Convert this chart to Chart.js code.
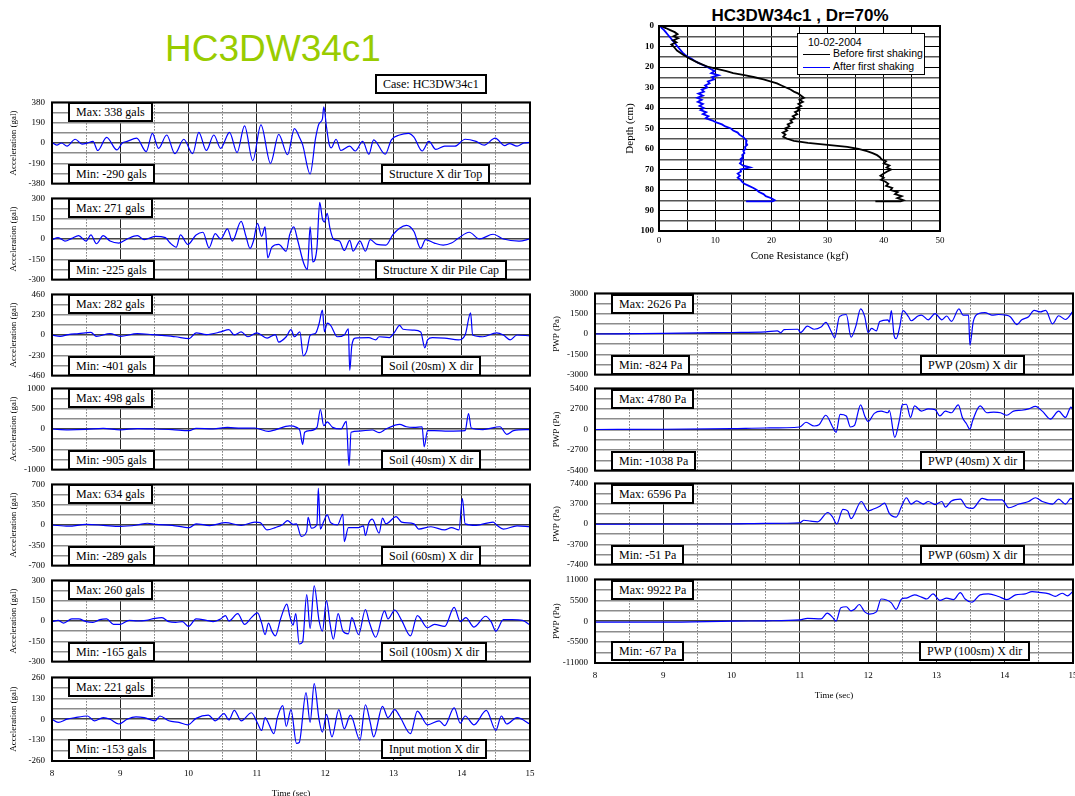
<!DOCTYPE html>
<html>
<head>
<meta charset="utf-8">
<script src="https://cdn.jsdelivr.net/npm/chart.js@4"></script>
<style>
html, body { margin: 0; padding: 0; background: #fff; width: 1075px; height: 796px; overflow: hidden; position: relative; }
canvas { position: absolute; }
.box { position: absolute; border: 2px solid #000; background: #fff; font: 12px 'Liberation Serif', serif; height: 16px; line-height: 16px; padding: 0 6px; white-space: nowrap; }
#bigTitle { position: absolute; left: 165px; top: 28px; font: 37px 'Liberation Sans', Arial, sans-serif; color: #99cc00; }
#coneTitle { position: absolute; left: 660px; width: 280px; top: 6px; text-align: center; font: bold 17px 'Liberation Sans', Arial, sans-serif; }
#legend { position: absolute; left: 797px; top: 33px; width: 126px; height: 40px; border: 1px solid #000; background: #fff; font: 10.5px 'Liberation Sans', Arial, sans-serif; }
#legend div { position: absolute; white-space: nowrap; }
#legend i { position: absolute; display: block; height: 1px; width: 27px; left: 5px; }
</style>
</head>
<body>
<div id="bigTitle">HC3DW34c1</div>
<div class="box" style="left:375px;top:74px;">Case: HC3DW34c1</div>
<div id="coneTitle">HC3DW34c1 , Dr=70%</div>
<div id="legend">
  <div style="left:10px;top:2px;">10-02-2004</div>
  <i style="top:20px;background:#000;"></i><div style="left:35px;top:13px;">Before first shaking</div>
  <i style="top:33px;background:#0000ff;"></i><div style="left:35px;top:26px;">After first shaking</div>
</div>
<script>
// acceleration records, [time (s), gal]
const accTop = [[8.00,5],[8.07,-20],[8.14,0],[8.22,-30],[8.34,35],[8.44,-10],[8.52,0],[8.60,15],[8.67,-70],[8.80,53],[8.95,-65],[9.03,0],[9.10,15],[9.24,45],[9.38,-80],[9.47,90],[9.56,-50],[9.68,75],[9.80,-100],[9.93,35],[10.06,-100],[10.15,100],[10.26,-70],[10.37,75],[10.47,-50],[10.60,100],[10.71,-90],[10.82,160],[10.94,-165],[11.06,170],[11.20,-190],[11.32,80],[11.45,-110],[11.55,135],[11.63,45],[11.67,-15],[11.78,-290],[11.86,45],[11.91,180],[11.96,225],[11.98,338],[12.02,150],[12.06,-15],[12.09,-45],[12.16,35],[12.23,-70],[12.36,-30],[12.44,-75],[12.55,15],[12.64,-105],[12.71,30],[12.88,-105],[12.97,30],[13.09,75],[13.22,90],[13.30,55],[13.42,-75],[13.52,15],[13.62,-60],[13.75,-30],[13.90,-30],[14.05,35],[14.21,15],[14.33,-20],[14.49,45],[14.63,-25],[14.70,-5],[14.81,-30],[14.91,0],[15.00,5]];
const accPileCap = [[8.00,-5],[8.09,10],[8.19,-15],[8.29,5],[8.39,25],[8.50,-15],[8.57,30],[8.65,-35],[8.75,25],[8.85,-15],[8.98,-30],[9.10,0],[9.25,25],[9.35,-5],[9.51,20],[9.66,10],[9.73,-30],[9.82,-60],[9.88,30],[9.99,-40],[10.11,30],[10.21,50],[10.30,-65],[10.39,40],[10.47,0],[10.57,75],[10.64,-15],[10.77,130],[10.84,20],[10.90,-70],[10.95,-15],[11.01,115],[11.07,20],[11.12,90],[11.16,-140],[11.22,-60],[11.32,-40],[11.43,-90],[11.48,30],[11.54,90],[11.60,-15],[11.69,-185],[11.74,-225],[11.78,90],[11.82,-170],[11.88,-65],[11.92,271],[11.96,150],[11.99,125],[12.03,190],[12.07,80],[12.12,0],[12.21,-15],[12.28,-85],[12.36,-10],[12.41,-90],[12.51,-15],[12.59,-90],[12.66,-5],[12.76,-40],[12.89,-45],[12.99,30],[13.09,80],[13.19,100],[13.30,55],[13.40,-70],[13.47,-5],[13.60,-30],[13.73,-45],[13.85,-30],[13.95,5],[14.11,50],[14.26,0],[14.46,35],[14.61,0],[14.84,-15],[15.00,0]];
const accSoil20 = [[8.00,0],[8.12,-15],[8.24,5],[8.39,15],[8.57,30],[8.65,-15],[8.85,15],[9.00,-15],[9.25,15],[9.46,5],[9.61,-5],[9.81,-20],[10.01,-40],[10.11,25],[10.26,5],[10.47,35],[10.59,60],[10.67,0],[10.77,35],[10.87,-20],[11.00,25],[11.15,-35],[11.27,5],[11.32,-80],[11.43,-20],[11.50,60],[11.55,-20],[11.63,35],[11.68,-235],[11.73,-180],[11.78,-5],[11.86,20],[11.91,125],[11.96,282],[11.99,35],[12.03,135],[12.08,110],[12.18,-20],[12.28,0],[12.34,70],[12.36,-401],[12.39,-125],[12.44,-35],[12.64,-30],[12.74,-55],[12.79,-20],[12.94,-30],[13.02,35],[13.09,110],[13.14,65],[13.30,55],[13.40,35],[13.46,-145],[13.50,-55],[13.57,-30],[13.75,-35],[13.95,-55],[14.05,0],[14.13,250],[14.16,0],[14.31,-20],[14.51,25],[14.61,0],[14.71,-55],[14.81,0],[15.00,-10]];
const accSoil40 = [[8.00,0],[8.24,-20],[8.50,-10],[8.75,15],[9.00,-20],[9.25,10],[9.51,0],[9.76,-15],[10.01,-40],[10.11,15],[10.36,0],[10.57,40],[10.77,20],[10.97,25],[11.17,-60],[11.27,-20],[11.48,75],[11.58,40],[11.63,-40],[11.67,-380],[11.70,-80],[11.78,-40],[11.88,40],[11.93,480],[11.98,80],[12.03,175],[12.11,40],[12.23,0],[12.31,190],[12.35,-905],[12.38,-80],[12.49,-50],[12.69,-25],[12.79,-90],[12.89,0],[13.09,115],[13.19,55],[13.30,40],[13.42,55],[13.45,-440],[13.50,-40],[13.60,-40],[13.80,-50],[14.05,-40],[14.10,380],[14.14,25],[14.31,-15],[14.56,55],[14.66,-130],[14.76,-40],[15.00,-15]];
const accSoil60 = [[8.00,0],[8.24,-20],[8.50,10],[8.75,-5],[9.00,-25],[9.25,0],[9.40,30],[9.51,10],[9.76,-5],[10.01,-45],[10.11,20],[10.31,-10],[10.54,40],[10.77,-5],[10.97,50],[11.05,40],[11.15,-85],[11.27,-45],[11.38,10],[11.45,75],[11.53,10],[11.58,20],[11.65,-195],[11.73,-110],[11.75,130],[11.80,-55],[11.88,10],[11.90,634],[11.93,-70],[11.98,65],[12.03,175],[12.08,40],[12.18,0],[12.26,185],[12.28,-289],[12.34,-45],[12.49,-45],[12.56,-15],[12.59,-180],[12.64,40],[12.69,100],[12.79,-140],[12.84,120],[12.89,20],[13.04,145],[13.12,50],[13.30,20],[13.37,-70],[13.55,-30],[13.75,-85],[13.85,-45],[13.96,-85],[14.01,455],[14.05,20],[14.21,-5],[14.46,50],[14.51,0],[14.61,-70],[14.81,-15],[15.00,-30]];
const accSoil100 = [[8.00,-5],[8.09,5],[8.17,-15],[8.29,15],[8.39,15],[8.50,-5],[8.60,-10],[8.70,10],[8.80,15],[8.90,-25],[9.00,-25],[9.13,5],[9.25,0],[9.38,5],[9.51,20],[9.61,25],[9.71,-5],[9.81,-10],[9.91,-5],[10.00,-40],[10.11,15],[10.26,5],[10.36,-5],[10.47,15],[10.54,40],[10.59,0],[10.72,55],[10.82,-25],[10.92,25],[11.01,60],[11.07,-15],[11.12,-100],[11.17,-15],[11.22,-75],[11.27,-110],[11.35,20],[11.44,125],[11.48,40],[11.53,-30],[11.57,55],[11.62,-170],[11.67,-155],[11.73,195],[11.78,-55],[11.84,260],[11.91,5],[11.96,-75],[12.02,150],[12.07,-15],[12.12,-135],[12.19,55],[12.26,-75],[12.34,-95],[12.39,25],[12.49,-100],[12.59,85],[12.65,-15],[12.74,-120],[12.87,75],[12.92,15],[13.02,80],[13.12,5],[13.25,-110],[13.35,40],[13.50,-50],[13.60,-25],[13.75,-40],[13.89,100],[13.98,-5],[14.06,25],[14.18,-45],[14.35,35],[14.43,-5],[14.50,-75],[14.61,10],[14.74,10],[14.89,5],[15.00,-30]];
const accInput = [[8.00,0],[8.09,-20],[8.22,0],[8.34,10],[8.52,20],[8.62,-10],[8.75,10],[8.85,0],[8.98,-30],[9.10,0],[9.23,15],[9.35,10],[9.51,-10],[9.58,20],[9.71,-10],[9.86,-20],[9.99,-35],[10.11,5],[10.29,25],[10.39,-10],[10.52,35],[10.59,-5],[10.67,55],[10.77,-10],[10.92,40],[11.01,-25],[11.07,-70],[11.12,10],[11.17,-25],[11.25,-90],[11.30,10],[11.38,85],[11.43,-45],[11.50,60],[11.58,-150],[11.62,-145],[11.72,165],[11.78,-20],[11.84,221],[11.91,0],[11.96,-80],[12.02,30],[12.10,-110],[12.20,60],[12.28,-60],[12.37,25],[12.51,-130],[12.59,90],[12.66,-20],[12.71,-110],[12.84,80],[12.92,10],[13.02,60],[13.09,20],[13.25,-90],[13.35,50],[13.50,-35],[13.67,-10],[13.75,-40],[13.89,70],[13.98,-25],[14.05,20],[14.18,-35],[14.36,55],[14.50,-70],[14.58,20],[14.66,-30],[14.81,10],[15.00,-30]];

// pore water pressure records, [time (s), Pa]
const pwp20 = [[8.00,0],[9.00,50],[9.50,90],[10.00,110],[10.50,160],[10.67,230],[10.72,90],[10.77,320],[10.97,350],[11.01,110],[11.11,580],[11.21,350],[11.31,510],[11.38,860],[11.46,190],[11.51,-280],[11.58,1280],[11.68,1440],[11.75,-230],[11.82,580],[11.89,1860],[11.95,1280],[12.00,110],[12.05,420],[12.12,230],[12.17,930],[12.29,1050],[12.31,880],[12.34,1720],[12.38,-120],[12.41,-350],[12.46,470],[12.51,1720],[12.59,1280],[12.63,980],[12.73,1330],[12.78,1400],[12.88,1050],[12.98,1510],[13.08,1050],[13.15,1330],[13.22,930],[13.33,1860],[13.39,1400],[13.47,1400],[13.49,-820],[13.54,930],[13.62,1510],[13.71,1580],[13.81,1400],[13.91,1440],[14.01,1400],[14.08,1280],[14.18,700],[14.25,1050],[14.35,1280],[14.43,1750],[14.52,1630],[14.60,1750],[14.70,750],[14.79,1350],[14.89,1070],[15.00,1680]];
const pwp40 = [[8.00,0],[9.00,30],[10.00,120],[10.50,200],[11.00,330],[11.09,950],[11.21,460],[11.28,620],[11.38,1870],[11.48,330],[11.53,-370],[11.59,1990],[11.68,1780],[11.74,330],[11.80,540],[11.89,3240],[11.95,1780],[12.00,1040],[12.09,2120],[12.19,2410],[12.29,2200],[12.31,2530],[12.39,-1038],[12.46,1370],[12.50,3240],[12.56,3320],[12.62,1580],[12.68,3110],[12.78,2410],[12.88,2700],[12.98,2620],[13.05,1780],[13.13,2410],[13.22,2200],[13.32,3240],[13.38,1580],[13.44,750],[13.49,40],[13.53,1160],[13.64,3110],[13.74,2200],[13.84,2280],[13.94,2200],[14.03,1870],[14.13,2410],[14.25,2530],[14.35,2700],[14.45,3030],[14.55,2410],[14.67,1370],[14.79,2410],[14.89,1580],[14.97,2950],[15.00,2530]];
const pwp60 = [[8.00,-50],[10.00,0],[10.50,110],[11.00,230],[11.06,680],[11.16,510],[11.26,400],[11.41,2100],[11.48,1250],[11.54,0],[11.63,2680],[11.70,2390],[11.75,970],[11.90,4100],[12.00,2390],[12.07,2680],[12.17,3240],[12.24,3810],[12.31,1930],[12.41,1250],[12.49,3240],[12.56,4780],[12.63,3640],[12.71,4210],[12.81,3640],[12.88,4100],[12.98,3530],[13.08,4100],[13.13,3070],[13.22,4210],[13.35,4550],[13.44,3070],[13.53,2850],[13.67,4670],[13.76,4380],[13.96,4380],[14.06,2960],[14.21,3640],[14.35,4100],[14.45,4780],[14.55,4100],[14.70,3640],[14.79,4550],[14.89,3640],[14.97,4670],[15.00,4380]];
const pwp100 = [[8.00,-250],[9.00,-250],[10.00,0],[10.50,100],[11.00,340],[11.11,760],[11.31,590],[11.40,2110],[11.48,1020],[11.53,0],[11.60,3550],[11.68,3800],[11.75,2710],[11.80,3130],[11.87,4400],[11.95,2450],[12.02,1860],[12.12,2450],[12.19,5840],[12.34,4820],[12.41,3130],[12.49,5840],[12.56,6090],[12.68,6940],[12.78,6340],[12.86,5840],[12.95,7190],[13.05,5500],[13.15,6090],[13.25,5670],[13.35,7530],[13.42,5840],[13.52,4990],[13.64,6940],[13.76,7190],[13.91,6510],[14.03,5670],[14.16,6940],[14.30,7190],[14.40,7780],[14.50,7610],[14.65,7190],[14.74,6510],[14.84,7360],[14.92,6680],[15.00,7870]];

const accSeries = [accTop, accPileCap, accSoil20, accSoil40, accSoil60, accSoil100, accInput];
const accLimits = [380, 300, 460, 1000, 700, 300, 260];
const accMax = [338, 271, 282, 498, 634, 260, 221];
const accMin = [-290, -225, -401, -905, -289, -165, -153];
const accNames = ['Structure X dir Top', 'Structure X dir Pile Cap', 'Soil (20sm) X dir', 'Soil (40sm) X dir', 'Soil (60sm) X dir', 'Soil (100sm) X dir', 'Input motion X dir'];

const pwpSeries = [pwp20, pwp40, pwp60, pwp100];
const pwpLimits = [3000, 5400, 7400, 11000];
const pwpMax = [2626, 4780, 6596, 9922];
const pwpMin = [-824, -1038, -51, -67];
const pwpNames = ['PWP (20sm) X dir', 'PWP (40sm) X dir', 'PWP (60sm) X dir', 'PWP (100sm) X dir'];

// cone penetration profiles: depth (cm), resistance (kgf)
const beforeDepth = [0,1,2,3,4,5,6,7,8,9,10,12,14,16,18,20,21,22,23,24,25,26,27,28,29,30,31,32,33,34,35,36,37,38,39,40,41,42,43,44,45,46,47,48,49,50,51,52,53,54,55,56,57,58,59,60,61,62,63,64,65,66,67,68,69,70,71,72,73,74,75,76,77,78,79,80,81,82,83,84,85,85.5,85.5];
const beforeQc = [0.3,1.2,2.0,2.8,3.3,2.6,3.4,2.5,3.1,2.2,2.6,3.2,4.3,5.5,7.0,8.8,10.5,12.0,13.2,15.2,17.0,18.6,19.8,21.0,21.8,22.6,23.4,24.0,24.8,25.3,25.8,25.0,25.6,24.8,25.3,24.5,25.0,24.2,24.6,23.8,24.2,23.4,23.7,22.9,23.2,22.4,22.8,22.0,22.5,22.1,22.8,24.0,26.5,30.0,33.5,35.5,37.0,38.0,38.8,39.3,39.6,40.4,40.0,41.0,40.5,41.3,40.6,40.0,39.4,40.0,39.5,40.3,40.8,40.4,41.5,41.2,42.5,42.0,43.2,42.4,43.5,43.0,38.5];
const afterDepth = [0,1,2,3,4,5,6,7,8,9,10,11,12,13,14,15,16,17,18,19,20,21,22,23,24,25,26,27,28,29,30,31,32,33,34,35,36,37,38,39,40,41,42,43,44,45,46,47,48,49,50,51,52,53,54,55,56,57,58,59,60,61,62,63,64,65,66,67,68,69,70,71,72,73,74,75,76,77,78,79,80,81,82,83,84,85,85.5,85.5];
const afterQc = [0.2,0.5,0.9,1.2,1.5,1.8,2.1,2.4,2.7,3.0,3.3,3.6,3.9,4.2,4.6,5.1,5.8,6.3,7.0,7.8,8.6,9.2,9.9,9.3,10.6,9.4,9.8,8.7,9.0,8.2,8.6,7.6,8.0,7.0,7.8,6.8,7.6,6.9,7.8,7.2,8.0,7.4,8.4,7.8,8.8,8.3,9.4,10.2,11.2,11.8,12.8,13.2,14.0,14.3,14.9,15.3,15.6,15.5,15.7,15.3,15.4,15.0,15.2,14.8,14.9,14.5,14.7,14.4,14.9,16.2,14.5,14.6,14.0,14.4,14.0,14.5,14.8,15.2,16.0,16.8,17.4,17.8,18.6,19.0,20.0,20.6,20.2,15.5];

// layout
const SERIF = "'Liberation Serif', 'Times New Roman', serif";
const accTops = [100, 196, 292, 386, 482, 578, 675];
const pwpTops = [291, 386, 481, 577];
const PANEL_H = 86;

const frame = {
  id: 'frame',
  afterDraw(chart) {
    const a = chart.chartArea, ctx = chart.ctx;
    ctx.save();
    ctx.strokeStyle = '#000';
    ctx.lineWidth = 2;
    ctx.strokeRect(a.left, a.top, a.right - a.left, a.bottom - a.top);
    ctx.restore();
  }
};

function addBox(text, left, top) {
  const d = document.createElement('div');
  d.className = 'box';
  d.textContent = text;
  d.style.left = left + 'px';
  d.style.top = top + 'px';
  document.body.appendChild(d);
}

function timeChart(p) {
  const xH = p.xLabels ? 38 : 10;
  const top = p.t - 10;
  const cv = document.createElement('canvas');
  cv.width = p.cw;
  cv.height = p.b - top + xH;
  cv.style.left = p.cx + 'px';
  cv.style.top = top + 'px';
  document.body.appendChild(cv);
  const step = p.lim / 4;
  new Chart(cv, {
    type: 'line',
    data: {
      datasets: [{
        data: p.data.map(d => ({ x: d[0], y: d[1] })),
        borderColor: '#0000ff',
        borderWidth: 1.2,
        pointRadius: 0,
        cubicInterpolationMode: 'monotone',
        fill: false
      }]
    },
    options: {
      responsive: false,
      animation: false,
      devicePixelRatio: 1,
      layout: { padding: { left: 0, top: 10, right: p.cx + p.cw - p.r, bottom: 0 } },
      plugins: { legend: { display: false }, tooltip: { enabled: false } },
      scales: {
        x: {
          type: 'linear', min: 8, max: 15, position: 'bottom',
          afterFit: s => { s.height = xH; },
          ticks: { display: p.xLabels, stepSize: 1, autoSkip: false, maxRotation: 0, padding: 7, color: '#000', font: { family: SERIF, size: 9 } },
          grid: { color: '#222', lineWidth: 1, drawTicks: false },
          border: { display: false },
          title: { display: p.xLabels, text: 'Time (sec)', color: '#000', font: { family: SERIF, size: 9 }, padding: { top: 0, bottom: 0 } }
        },
        x2: {
          type: 'linear', min: 8, max: 15, position: 'bottom',
          afterFit: s => { s.height = 0; },
          ticks: { display: false, stepSize: 0.5, autoSkip: false },
          grid: { drawTicks: false, lineWidth: 1, color: c => (Math.abs((c.tick.value % 1) - 0.5) < 0.01 ? '#333' : 'rgba(0,0,0,0)') },
          border: { display: false, dash: [1, 2] }
        },
        y: {
          type: 'linear', min: -p.lim, max: p.lim,
          afterFit: s => { s.width = p.l - p.cx; },
          ticks: { stepSize: step, autoSkip: false, padding: 7, color: '#000', font: { family: SERIF, size: 9 },
            callback: v => (Math.round(v / step) % 2 === 0 ? String(v) : '') },
          grid: { drawTicks: false, lineWidth: 1.5, color: c => (c.tick.value === 0 ? '#444' : '#8c8c8c') },
          border: { display: false },
          title: { display: true, text: p.yTitle, color: '#000', font: { family: SERIF, size: 9 }, padding: { top: p.titlePad, bottom: 0 } }
        }
      }
    },
    plugins: [frame]
  });
}

accSeries.forEach((data, i) => {
  const t = accTops[i], b = t + PANEL_H;
  timeChart({ data, lim: accLimits[i], cx: 0, cw: 545, l: 52, r: 530, t, b,
    xLabels: i === accSeries.length - 1, yTitle: 'Acceleration (gal)', titlePad: 8 });
  addBox('Max: ' + accMax[i] + ' gals', 68, t + 2);
  addBox('Min: ' + accMin[i] + ' gals', 68, b - 22);
  addBox(accNames[i], i === 1 ? 375 : 381, b - 22);
});

pwpSeries.forEach((data, i) => {
  const t = pwpTops[i], b = t + PANEL_H + (i === 1 ? 1 : 0);
  timeChart({ data, lim: pwpLimits[i], cx: 548, cw: 545, l: 595, r: 1073, t, b,
    xLabels: i === pwpSeries.length - 1, yTitle: 'PWP (Pa)', titlePad: 3 });
  addBox('Max: ' + pwpMax[i] + ' Pa', 611, t + 3);
  addBox('Min: ' + pwpMin[i] + ' Pa', 611, b - 22);
  addBox(pwpNames[i], i === 3 ? 919 : 920, b - 22);
});

// cone resistance profile
const cone = document.createElement('canvas');
cone.width = 360;
cone.height = 270;
cone.style.left = '600px';
cone.style.top = '0px';
document.body.insertBefore(cone, document.getElementById('legend'));
new Chart(cone, {
  type: 'scatter',
  data: {
    datasets: [
      { data: beforeDepth.map((d, i) => ({ x: beforeQc[i], y: d })), showLine: true, borderColor: '#000', borderWidth: 1.8, pointRadius: 0 },
      { data: afterDepth.map((d, i) => ({ x: afterQc[i], y: d })), showLine: true, borderColor: '#0000ff', borderWidth: 1.8, pointRadius: 0 }
    ]
  },
  options: {
    responsive: false,
    animation: false,
    devicePixelRatio: 1,
    layout: { padding: { left: 0, top: 26, right: 20, bottom: 0 } },
    plugins: { legend: { display: false }, tooltip: { enabled: false } },
    scales: {
      x: {
        type: 'linear', min: 0, max: 50, position: 'bottom',
        afterFit: s => { s.height = 39; },
        ticks: { stepSize: 5, autoSkip: false, maxRotation: 0, padding: 4, color: '#000', font: { family: SERIF, size: 9 },
          callback: v => (v % 10 === 0 ? String(v) : '') },
        grid: { color: '#000', lineWidth: 1, drawTicks: false },
        border: { display: false },
        title: { display: true, text: 'Cone Resistance (kgf)', color: '#000', font: { family: SERIF, size: 11 }, padding: { top: 0, bottom: 7 } }
      },
      y: {
        type: 'linear', min: 0, max: 100, reverse: true,
        afterFit: s => { s.width = 59; },
        ticks: { stepSize: 5, autoSkip: false, padding: 5, color: '#000', font: { family: SERIF, size: 9, weight: 'bold' },
          callback: v => (v % 10 === 0 ? String(v) : '') },
        grid: { drawTicks: false, color: c => (c.tick.value % 10 === 0 ? '#000' : '#555'), lineWidth: c => (c.tick.value % 10 === 0 ? 1 : 1.5) },
        border: { display: false },
        title: { display: true, text: 'Depth (cm)', color: '#000', font: { family: SERIF, size: 11 }, padding: { top: 24, bottom: 0 } }
      }
    }
  },
  plugins: [frame]
});
</script>
</body>
</html>
